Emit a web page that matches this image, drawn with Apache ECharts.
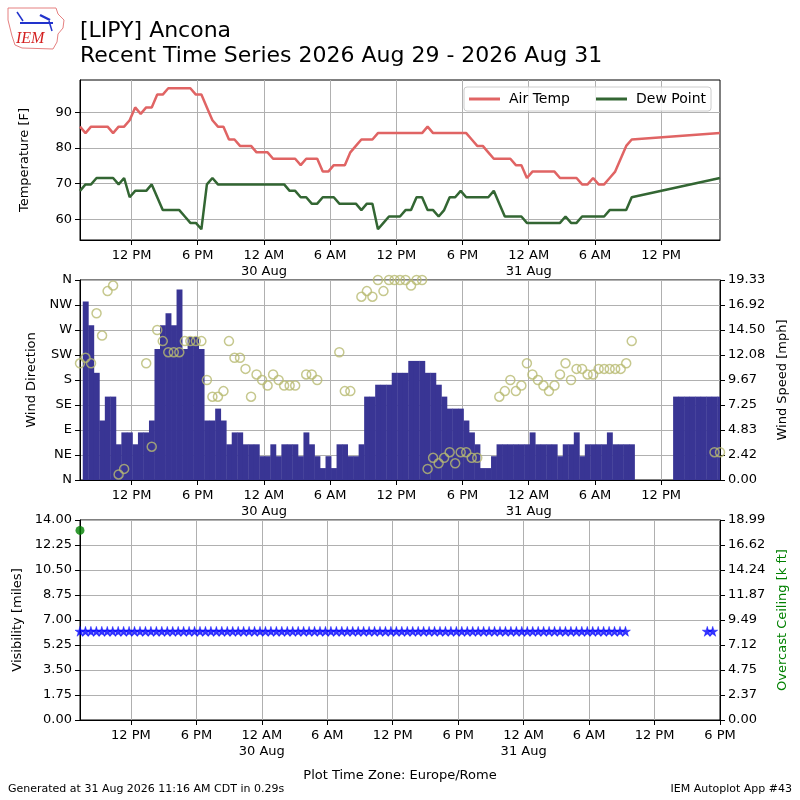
<!DOCTYPE html>
<html>
<head>
<meta charset="utf-8">
<script src="https://cdn.jsdelivr.net/npm/echarts@6/dist/echarts.min.js"></script>
<style>
  html, body { margin: 0; padding: 0; background: #fff; }
  #meteogram { width: 800px; height: 800px; }
</style>
</head>
<body>
<div id="meteogram"></div>
<script>
// obs every 30 minutes, first one 29 Aug 07:20 (x axis = hours since 29 Aug 00:00)
var firstObsHour = 7 + 20 / 60;
var obsStep = 0.5;

var airTemp = [
  86.0, 84.2, 86.0, 86.0, 86.0, 86.0, 84.2, 86.0, 86.0, 87.8,
  91.4, 89.6, 91.4, 91.4, 95.0, 95.0, 96.8, 96.8, 96.8, 96.8,
  96.8, 95.0, 95.0, 91.4, 87.8, 86.0, 86.0, 82.4, 82.4, 80.6,
  80.6, 80.6, 78.8, 78.8, 78.8, 77.0, 77.0, 77.0, 77.0, 77.0,
  75.2, 77.0, 77.0, 77.0, 73.4, 73.4, 75.2, 75.2, 75.2, 78.8,
  80.6, 82.4, 82.4, 82.4, 84.2, 84.2, 84.2, 84.2, 84.2, 84.2,
  84.2, 84.2, 84.2, 86.0, 84.2, 84.2, 84.2, 84.2, 84.2, 84.2,
  84.2, 82.4, 80.6, 80.6, 78.8, 77.0, 77.0, 77.0, 77.0, 75.2,
  75.2, 71.6, 73.4, 73.4, 73.4, 73.4, 73.4, 71.6, 71.6, 71.6,
  71.6, 69.8, 69.8, 71.6, 69.8, 69.8, 71.6, 73.4, 77.0, 80.6,
  82.4, null, null, null, null, null, null, null, null, null,
  null, null, null, null, null, null, 84.2
];

var dewPoint = [
  68.0, 69.8, 69.8, 71.6, 71.6, 71.6, 71.6, 69.8, 71.6, 66.2,
  68.0, 68.0, 68.0, 69.8, 66.2, 62.6, 62.6, 62.6, 62.6, 60.8,
  59.0, 59.0, 57.2, 69.8, 71.6, 69.8, 69.8, 69.8, 69.8, 69.8,
  69.8, 69.8, 69.8, 69.8, 69.8, 69.8, 69.8, 69.8, 68.0, 68.0,
  66.2, 66.2, 64.4, 64.4, 66.2, 66.2, 66.2, 64.4, 64.4, 64.4,
  64.4, 62.6, 64.4, 64.4, 57.2, 59.0, 60.8, 60.8, 60.8, 62.6,
  62.6, 66.2, 66.2, 62.6, 62.6, 60.8, 62.6, 66.2, 66.2, 68.0,
  66.2, 66.2, 66.2, 66.2, 66.2, 68.0, 64.4, 60.8, 60.8, 60.8,
  60.8, 59.0, 59.0, 59.0, 59.0, 59.0, 59.0, 59.0, 60.8, 59.0,
  59.0, 60.8, 60.8, 60.8, 60.8, 60.8, 62.6, 62.6, 62.6, 62.6,
  66.2, null, null, null, null, null, null, null, null, null,
  null, null, null, null, null, null, 71.6
];

// mph
var windSpeed = [
  null, 17.26, 14.96, 10.36, 5.75, 8.06, 8.06, 3.45, 4.60, 4.60,
  3.45, 4.60, 4.60, 5.75, 12.66, 14.96, 16.11, 14.96, 18.41, 12.66,
  13.81, 13.81, 12.66, 5.75, 5.75, 6.90, 5.75, 3.45, 4.60, 4.60,
  3.45, 3.45, 3.45, 2.30, 2.30, 3.45, 2.30, 3.45, 3.45, 3.45,
  2.30, 4.60, 3.45, 2.30, 1.15, 2.30, 1.15, 3.45, 3.45, 2.30,
  2.30, 3.45, 8.06, 8.06, 9.21, 9.21, 9.21, 10.36, 10.36, 10.36,
  11.51, 11.51, 11.51, 10.36, 10.36, 9.21, 8.06, 6.90, 6.90, 6.90,
  5.75, 4.60, 3.45, 1.15, 1.15, 2.30, 3.45, 3.45, 3.45, 3.45,
  3.45, 3.45, 4.60, 3.45, 3.45, 3.45, 3.45, 2.30, 3.45, 3.45,
  4.60, 2.30, 3.45, 3.45, 3.45, 3.45, 4.60, 3.45, 3.45, 3.45,
  3.45, null, null, null, null, null, null, null, 8.06, 8.06,
  8.06, 8.06, 8.06, 8.06, 8.06, 8.06, 8.06
];

// degrees
var windDir = [
  210, 220, 210, 300, 260, 340, 350, 10, 20, null,
  null, null, 210, 60, 270, 250, 230, 230, 230, 250,
  250, 250, 250, 180, 150, 150, 160, 250, 220, 220,
  200, 150, 190, 180, 170, 190, 180, 170, 170, 170,
  null, 190, 190, 180, null, null, null, 230, 160, 160,
  null, 330, 340, 330, 360, 340, 360, 360, 360, 360,
  350, 360, 360, 20, 40, 30, 40, 50, 30, 50,
  50, 40, 40, null, null, null, 150, 160, 180, 160,
  170, 210, 190, 180, 170, 160, 170, 190, 210, 180,
  200, 200, 190, 190, 200, 200, 200, 200, 200, 210,
  250, null, null, null, null, null, null, null, null, null,
  null, null, null, null, null, 50, 50
];

// miles
var visibility = [
  6.21, 6.21, 6.21, 6.21, 6.21, 6.21, 6.21, 6.21, 6.21, 6.21,
  6.21, 6.21, 6.21, 6.21, 6.21, 6.21, 6.21, 6.21, 6.21, 6.21,
  6.21, 6.21, 6.21, 6.21, 6.21, 6.21, 6.21, 6.21, 6.21, 6.21,
  6.21, 6.21, 6.21, 6.21, 6.21, 6.21, 6.21, 6.21, 6.21, 6.21,
  6.21, 6.21, 6.21, 6.21, 6.21, 6.21, 6.21, 6.21, 6.21, 6.21,
  6.21, 6.21, 6.21, 6.21, 6.21, 6.21, 6.21, 6.21, 6.21, 6.21,
  6.21, 6.21, 6.21, 6.21, 6.21, 6.21, 6.21, 6.21, 6.21, 6.21,
  6.21, 6.21, 6.21, 6.21, 6.21, 6.21, 6.21, 6.21, 6.21, 6.21,
  6.21, 6.21, 6.21, 6.21, 6.21, 6.21, 6.21, 6.21, 6.21, 6.21,
  6.21, 6.21, 6.21, 6.21, 6.21, 6.21, 6.21, 6.21, 6.21, 6.21,
  6.21, null, null, null, null, null, null, null, null, null,
  null, null, null, null, null, 6.21, 6.21
];

// [obs slot, k ft]
var ceiling = [[0, 18.0]];

var tickHours = [12, 18, 24, 30, 36, 42, 48, 54, 60, 66];
var tickLabels = ['12 PM', '6 PM', '12 AM\n30 Aug', '6 AM', '12 PM', '6 PM',
  '12 AM\n31 Aug', '6 AM', '12 PM', '6 PM'];
var tempTicks = [60, 70, 80, 90];
var dirLabels = ['N', 'NE', 'E', 'SE', 'S', 'SW', 'W', 'NW', 'N'];
var speedLabels = ['0.00', '2.42', '4.83', '7.25', '9.67', '12.08', '14.50', '16.92', '19.33'];
var visLabels = ['0.00', '1.75', '3.50', '5.25', '7.00', '8.75', '10.50', '12.25', '14.00'];
var ceilLabels = ['0.00', '2.37', '4.75', '7.12', '9.49', '11.87', '14.24', '16.62', '18.99'];

var FONT = 'DejaVu Sans';
var STAR = 'path://M50,0 L61,35 L98,35 L68,57 L79,91 L50,70 L21,91 L32,57 L2,35 L39,35 Z';

function toPairs(values) {
  var out = [];
  values.forEach(function (v, k) {
    if (v !== null) out.push([firstObsHour + k * obsStep, v]);
  });
  return out;
}

function timeAxis(gridIndex, maxHour) {
  return {
    type: 'value',
    gridIndex: gridIndex,
    min: firstObsHour,
    max: maxHour,
    axisLine: { lineStyle: { color: '#000' } },
    axisTick: { customValues: tickHours, length: 5, lineStyle: { color: '#000' } },
    axisLabel: {
      customValues: tickHours,
      margin: 8,
      color: '#000',
      fontFamily: FONT,
      fontSize: 13,
      lineHeight: 16,
      formatter: function (value) {
        return tickLabels[tickHours.indexOf(value)];
      }
    },
    splitLine: { show: true, lineStyle: { color: '#b0b0b0' } }
  };
}

function labelAxis(gridIndex, labels, max, pos, name, nameGap, nameColor) {
  return {
    type: 'value',
    gridIndex: gridIndex,
    position: pos,
    min: 0,
    max: max,
    interval: max / 8,
    name: name,
    nameLocation: 'middle',
    nameRotate: 90,
    nameGap: nameGap,
    nameTextStyle: { color: nameColor || '#000', fontFamily: FONT, fontSize: 13 },
    axisLine: { show: true, lineStyle: { color: '#000' } },
    axisTick: { show: true, length: 5, lineStyle: { color: '#000' } },
    axisLabel: {
      margin: 8,
      color: '#000',
      fontFamily: FONT,
      fontSize: 13,
      formatter: function (value, index) {
        return labels[index];
      }
    },
    splitLine: { show: pos === 'left', lineStyle: { color: '#b0b0b0' } }
  };
}

var myChart = echarts.init(document.getElementById('meteogram'));

var option = {
  backgroundColor: '#fff',
  animation: false,
  textStyle: { fontFamily: FONT },
  graphic: [
    // IEM logo
    {
      type: 'polyline',
      shape: { points: [[8, 8], [56, 8], [58, 14], [64, 20], [63, 28], [58, 34], [57, 42], [53, 49],
        [22, 48], [15, 45], [12, 36], [8, 20], [8, 8]] },
      style: { stroke: '#e58080', lineWidth: 1, fill: null }
    },
    { type: 'line', shape: { x1: 20, y1: 23, x2: 53, y2: 23 }, style: { stroke: '#2233cc', lineWidth: 2 } },
    { type: 'line', shape: { x1: 17, y1: 12, x2: 23, y2: 21 }, style: { stroke: '#2233cc', lineWidth: 1.5 } },
    { type: 'line', shape: { x1: 40, y1: 15, x2: 50, y2: 20 }, style: { stroke: '#2233cc', lineWidth: 2.5 } },
    { type: 'line', shape: { x1: 49, y1: 21, x2: 52, y2: 31 }, style: { stroke: '#2233cc', lineWidth: 1.5 } },
    {
      type: 'text', left: 16, top: 31,
      style: { text: 'IEM', fill: '#d42020', font: 'italic 16px "Liberation Serif"' }
    },
    // title
    {
      type: 'text', left: 80, top: 20,
      style: { text: '[LIPY] Ancona', fill: '#000', font: '22px "DejaVu Sans"' }
    },
    {
      type: 'text', left: 80, top: 45,
      style: { text: 'Recent Time Series 2026 Aug 29 - 2026 Aug 31', fill: '#000', font: '22px "DejaVu Sans"' }
    },
    // footer
    {
      type: 'text', left: 8, top: 784,
      style: { text: 'Generated at 31 Aug 2026 11:16 AM CDT in 0.29s', fill: '#000', font: '11px "DejaVu Sans"' }
    },
    {
      type: 'text', right: 8, top: 784,
      style: { text: 'IEM Autoplot App #43', fill: '#000', font: '11px "DejaVu Sans"' }
    }
  ],
  legend: {
    data: ['Air Temp', 'Dew Point'],
    left: 464,
    top: 87,
    icon: 'rect',
    itemWidth: 31,
    itemHeight: 3,
    itemGap: 26,
    padding: [5, 5, 5, 5],
    backgroundColor: 'rgba(255,255,255,0.8)',
    borderColor: '#cccccc',
    borderWidth: 1,
    borderRadius: 3,
    textStyle: { fontFamily: FONT, fontSize: 14, color: '#000', padding: [0, 0, 0, 4] }
  },
  grid: [
    { left: 80, right: 80, top: 80, height: 160, show: true, borderColor: '#000', borderWidth: 1 },
    { left: 80, right: 80, top: 280, height: 200, show: true, borderColor: '#000', borderWidth: 1 },
    { left: 80, right: 80, top: 520, height: 200, show: true, borderColor: '#000', borderWidth: 1 }
  ],
  xAxis: [
    timeAxis(0, firstObsHour + 58),
    timeAxis(1, firstObsHour + 58),
    Object.assign(timeAxis(2, 66), {
      name: 'Plot Time Zone: Europe/Rome',
      nameLocation: 'middle',
      nameGap: 49,
      nameTextStyle: { color: '#000', fontFamily: FONT, fontSize: 13 }
    })
  ],
  yAxis: [
    {
      type: 'value',
      gridIndex: 0,
      min: 54.2,
      max: 99.1,
      name: 'Temperature [F]',
      nameLocation: 'middle',
      nameRotate: 90,
      nameGap: 49,
      nameTextStyle: { color: '#000', fontFamily: FONT, fontSize: 13 },
      axisLine: { show: true, lineStyle: { color: '#000' } },
      axisTick: { show: true, customValues: tempTicks, length: 5, lineStyle: { color: '#000' } },
      axisLabel: { customValues: tempTicks, margin: 8, color: '#000', fontFamily: FONT, fontSize: 13 },
      splitLine: { show: true, lineStyle: { color: '#b0b0b0' } }
    },
    labelAxis(1, dirLabels, 360, 'left', 'Wind Direction', 40),
    labelAxis(1, speedLabels, 19.33, 'right', 'Wind Speed [mph]', 56),
    labelAxis(2, visLabels, 14, 'left', 'Visibility [miles]', 55),
    labelAxis(2, ceilLabels, 18.985, 'right', 'Overcast Ceiling [k ft]', 56, '#008000')
  ],
  series: [
    {
      name: 'Air Temp',
      type: 'line',
      xAxisIndex: 0,
      yAxisIndex: 0,
      data: toPairs(airTemp),
      showSymbol: false,
      color: '#e06464',
      lineStyle: { color: '#e06464', width: 2.5 }
    },
    {
      name: 'Dew Point',
      type: 'line',
      xAxisIndex: 0,
      yAxisIndex: 0,
      data: toPairs(dewPoint),
      showSymbol: false,
      color: '#336633',
      lineStyle: { color: '#336633', width: 2.5 }
    },
    {
      // wind speed bars, one per obs, half an hour wide
      type: 'custom',
      xAxisIndex: 1,
      yAxisIndex: 2,
      data: toPairs(windSpeed),
      renderItem: function (params, api) {
        var t = api.value(0);
        var top = api.coord([t - obsStep / 2, api.value(1)]);
        var bottom = api.coord([t + obsStep / 2, 0]);
        var rect = echarts.graphic.clipRectByRect({
          x: top[0],
          y: top[1],
          width: bottom[0] - top[0] + 0.4,
          height: bottom[1] - top[1]
        }, params.coordSys);
        return rect && {
          type: 'rect',
          shape: rect,
          style: { fill: '#393594' }
        };
      },
      z: 2
    },
    {
      type: 'scatter',
      xAxisIndex: 1,
      yAxisIndex: 1,
      data: toPairs(windDir),
      symbol: 'circle',
      symbolSize: 9,
      itemStyle: { color: 'rgba(0,0,0,0)', borderColor: '#b8ba72', borderWidth: 1.5 },
      z: 3
    },
    {
      type: 'scatter',
      xAxisIndex: 2,
      yAxisIndex: 3,
      data: toPairs(visibility),
      symbol: STAR,
      symbolSize: 10,
      itemStyle: { color: '#0000ff', borderColor: '#0000ff', borderWidth: 0.5 }
    },
    {
      type: 'scatter',
      xAxisIndex: 2,
      yAxisIndex: 4,
      data: ceiling.map(function (c) { return [firstObsHour + c[0] * obsStep, c[1]]; }),
      symbol: 'circle',
      symbolSize: 9,
      itemStyle: { color: '#008000' }
    }
  ]
};

if (option && typeof option === 'object') {
  myChart.setOption(option);
}

window.addEventListener('resize', myChart.resize);
</script>
</body>
</html>
